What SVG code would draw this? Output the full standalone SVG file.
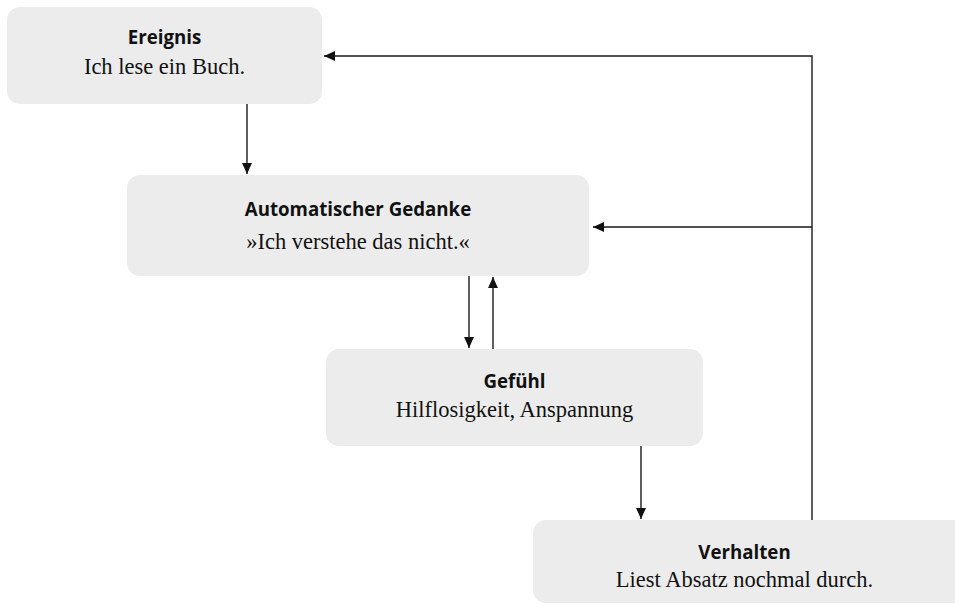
<svg xmlns="http://www.w3.org/2000/svg" width="955" height="612" viewBox="0 0 955 612">
<defs>
<style>
.box{fill:#ececec;}
.t{font-family:"Open Sans","Noto Sans",sans-serif;font-weight:bold;font-size:18.7px;fill:#111;text-anchor:middle;}
.b{font-family:"Liberation Serif","DejaVu Serif",serif;font-size:22.5px;fill:#111;text-anchor:middle;}
.c{fill:none;stroke:#1a1a1a;stroke-width:1.4;}
</style>
<marker id="ah" viewBox="0 0 10 10" refX="10" refY="5" markerWidth="11" markerHeight="11" markerUnits="userSpaceOnUse" orient="auto">
<path d="M0,0.5 L10,5 L0,9.5 Z" fill="#111"/>
</marker>
</defs>
<rect width="955" height="612" fill="#fff"/>
<g id="connectors">
<line class="c" x1="247" y1="104" x2="247" y2="174" marker-end="url(#ah)"/>
<line class="c" x1="469" y1="276" x2="469" y2="348" marker-end="url(#ah)"/>
<line class="c" x1="493" y1="349" x2="493" y2="277" marker-end="url(#ah)"/>
<line class="c" x1="641" y1="446" x2="641" y2="519" marker-end="url(#ah)"/>
<polyline class="c" points="812,520 812,56 324,56" marker-end="url(#ah)"/>
<line class="c" x1="812" y1="227" x2="593" y2="227" marker-end="url(#ah)"/>
</g>
<g id="ereignis">
<rect class="box" x="7" y="7" width="315" height="97" rx="13"/>
<text class="t" x="164.5" y="44">Ereignis</text>
<text class="b" x="164.5" y="74">Ich lese ein Buch.</text>
</g>
<g id="gedanke">
<rect class="box" x="127" y="175" width="462" height="101" rx="13"/>
<text class="t" x="358" y="216">Automatischer Gedanke</text>
<text class="b" x="358" y="249">»Ich verstehe das nicht.«</text>
</g>
<g id="gefuehl">
<rect class="box" x="326" y="349" width="377" height="97" rx="13"/>
<text class="t" x="514.5" y="388">Gefühl</text>
<text class="b" x="514.5" y="417">Hilflosigkeit, Anspannung</text>
</g>
<g id="verhalten">
<rect class="box" x="533" y="520" width="435" height="83" rx="13"/>
<text class="t" x="744.5" y="559">Verhalten</text>
<text class="b" x="744.5" y="587">Liest Absatz nochmal durch.</text>
</g>
</svg>
